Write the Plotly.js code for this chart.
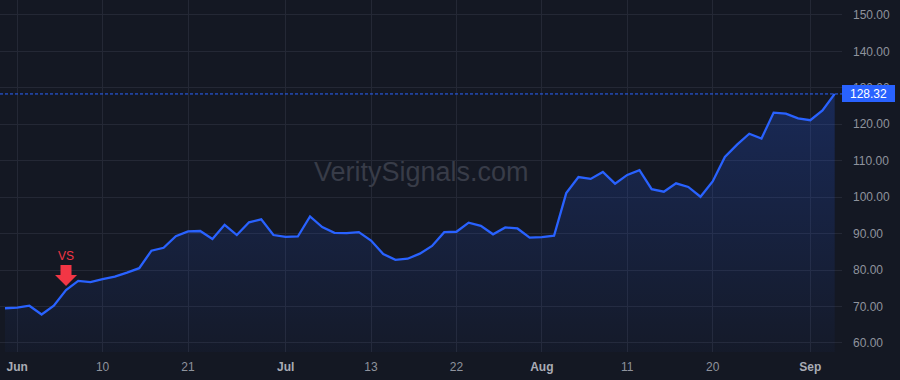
<!DOCTYPE html>
<html>
<head>
<meta charset="utf-8">
<script src="https://cdn.plot.ly/plotly-3.0.1.min.js"></script>
<style>
  html, body { margin: 0; padding: 0; background: #141823; }
  #chart { width: 900px; height: 380px; }
</style>
</head>
<body>
<div id="chart"></div>
<script>
// Trading days (2021), May 28 – Sep 3
const dates = [
  '2021-05-28','2021-06-01','2021-06-02','2021-06-03','2021-06-04','2021-06-07','2021-06-08','2021-06-09',
  '2021-06-10','2021-06-11','2021-06-14','2021-06-15','2021-06-16','2021-06-17','2021-06-18','2021-06-21',
  '2021-06-22','2021-06-23','2021-06-24','2021-06-25','2021-06-28','2021-06-29','2021-06-30','2021-07-01',
  '2021-07-02','2021-07-06','2021-07-07','2021-07-08','2021-07-09','2021-07-12','2021-07-13','2021-07-14',
  '2021-07-15','2021-07-16','2021-07-19','2021-07-20','2021-07-21','2021-07-22','2021-07-23','2021-07-26',
  '2021-07-27','2021-07-28','2021-07-29','2021-07-30','2021-08-02','2021-08-03','2021-08-04','2021-08-05',
  '2021-08-06','2021-08-09','2021-08-10','2021-08-11','2021-08-12','2021-08-13','2021-08-16','2021-08-17',
  '2021-08-18','2021-08-19','2021-08-20','2021-08-23','2021-08-24','2021-08-25','2021-08-26','2021-08-27',
  '2021-08-30','2021-08-31','2021-09-01','2021-09-02','2021-09-03'
];
const closes = [
  69.5, 69.7, 70.2, 67.8, 70.2, 74.5, 77.0, 76.7,
  77.5, 78.2, 79.3, 80.5, 85.3, 86.1, 89.3, 90.6,
  90.7, 88.5, 92.4, 89.6, 93.1, 93.9, 89.6, 89.1,
  89.2, 94.7, 91.8, 90.2, 90.1, 90.4, 88.1, 84.4,
  82.8, 83.1, 84.5, 86.6, 90.4, 90.5, 93.0, 92.1,
  89.8, 91.7, 91.4, 88.9, 89.0, 89.4, 101.1, 105.5,
  105.0, 106.9, 103.7, 106.1, 107.4, 102.2, 101.5, 103.8,
  102.8, 100.1, 104.3, 111.0, 114.4, 117.4, 116.1, 123.2,
  122.9, 121.6, 121.1, 123.8, 128.32
];
const tickDates  = ['2021-06-01','2021-06-10','2021-06-21','2021-07-01','2021-07-13','2021-07-22','2021-08-02','2021-08-11','2021-08-20','2021-09-01'];
const tickLabels = ['Jun','10','21','Jul','13','22','Aug','11','20','Sep'];
const monthLabels = ['Jun','Jul','Aug','Sep'];
const yTicks = [60, 70, 80, 90, 100, 110, 120, 130, 140, 150];
const signalDate = '2021-06-07';
const signalLabel = 'VS';
const watermark = 'VeritySignals.com';

const BG = '#141823';
const BLUE = '#2962ff';
const GRID = '#242835';
const RED = '#f23645';

const lastPrice = closes[closes.length - 1];
const sigIdx = dates.indexOf(signalDate);
const sigVal = closes[sigIdx];

const ticktext = tickLabels.map(t => monthLabels.includes(t)
  ? '<span style="color:#a9acb5"><b>' + t + '</b></span>'
  : t);

const trace = {
  x: dates,
  y: closes,
  type: 'scatter',
  mode: 'lines',
  line: { color: BLUE, width: 2.3 },
  fill: 'tozeroy',
  fillgradient: {
    type: 'vertical',
    start: 57.5,
    stop: 130,
    colorscale: [[0, 'rgba(41,98,255,0.03)'], [1, 'rgba(41,98,255,0.24)']]
  },
  hoverinfo: 'skip'
};

const layout = {
  width: 900, height: 380,
  margin: { l: 0, r: 58, t: 0, b: 28 },
  paper_bgcolor: BG,
  plot_bgcolor: BG,
  showlegend: false,
  font: { family: 'Liberation Sans, Arial, sans-serif', size: 12, color: '#8f939d' },
  xaxis: {
    type: 'category',
    range: [-0.41, 68.6],
    tickmode: 'array',
    tickvals: tickDates,
    ticktext: ticktext,
    showgrid: true,
    gridcolor: GRID,
    gridwidth: 1,
    zeroline: false,
    showline: false,
    ticks: '',
    ticklabelstandoff: 6,
    tickfont: { size: 12, color: '#8f939d' }
  },
  yaxis: {
    side: 'right',
    range: [57.5, 154.1],
    tickmode: 'array',
    tickvals: yTicks,
    ticktext: yTicks.map(v => v.toFixed(2)),
    showgrid: true,
    gridcolor: GRID,
    gridwidth: 1,
    zeroline: false,
    showline: false,
    ticks: '',
    ticklabelstandoff: 10,
    tickfont: { size: 12, color: '#8f939d' }
  },
  shapes: [
    {
      type: 'line', xref: 'paper', yref: 'y',
      x0: 0, x1: 1, y0: lastPrice, y1: lastPrice,
      line: { color: BLUE, width: 1, dash: '3px,2px' }
    },
    {
      type: 'path', xref: 'x', yref: 'y',
      xsizemode: 'pixel', ysizemode: 'pixel',
      xanchor: sigIdx, yanchor: sigVal,
      path: 'M -5.5 25 L 5.5 25 L 5.5 15 L 11 15 L 0 4 L -11 15 L -5.5 15 Z',
      fillcolor: RED,
      line: { width: 0 }
    }
  ],
  annotations: [
    {
      xref: 'paper', yref: 'paper', x: 0.5, y: 0.511,
      text: watermark, showarrow: false,
      xanchor: 'center', yanchor: 'middle',
      font: { size: 27, color: '#383c48', family: 'Liberation Sans, Arial, sans-serif' }
    },
    {
      xref: 'x', yref: 'y', x: sigIdx, y: sigVal,
      text: signalLabel, showarrow: false,
      xanchor: 'center', yanchor: 'middle', yshift: 34,
      font: { size: 12, color: RED }
    },
    {
      xref: 'paper', yref: 'y', x: 1, y: lastPrice,
      xanchor: 'left', yanchor: 'middle', xshift: 0,
      text: lastPrice.toFixed(2), showarrow: false,
      bgcolor: BLUE, borderpad: 1, borderwidth: 0,
      width: 51, height: 15,
      font: { size: 12, color: '#ffffff' }
    }
  ]
};

Plotly.newPlot('chart', [trace], layout, { displayModeBar: false, staticPlot: true });
</script>
</body>
</html>
